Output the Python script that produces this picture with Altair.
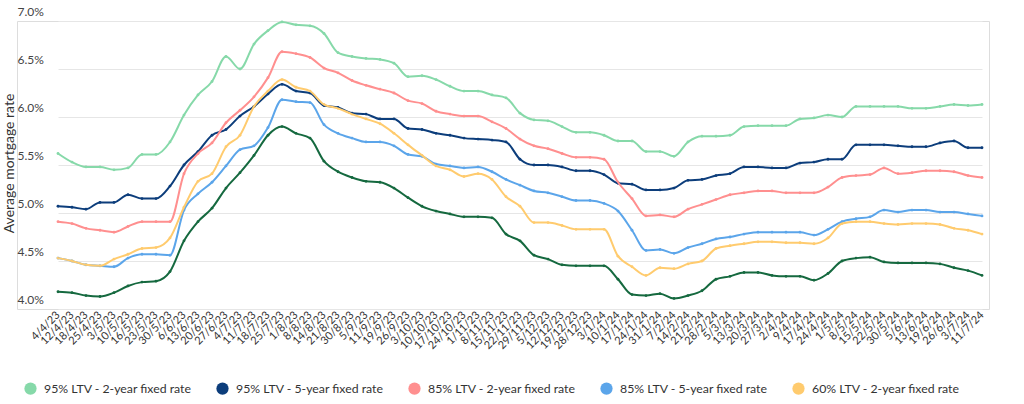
import altair as alt
import pandas as pd

dates = ["4/4/23", "12/4/23", "18/4/23", "25/4/23", "3/5/23", "10/5/23", "16/5/23", "23/5/23",
         "30/5/23", "6/6/23", "13/6/23", "20/6/23", "27/6/23", "4/7/23", "11/7/23", "18/7/23",
         "25/7/23", "1/8/23", "8/8/23", "14/8/23", "21/8/23", "30/8/23", "5/9/23", "11/9/23",
         "19/9/23", "26/9/23", "3/10/23", "10/10/23", "17/10/23", "24/10/23", "1/11/23", "8/11/23",
         "15/11/23", "22/11/23", "29/11/23", "5/12/23", "12/12/23", "19/12/23", "28/12/23", "3/1/24",
         "10/1/24", "17/1/24", "24/1/24", "31/1/24", "7/2/24", "14/2/24", "21/2/24", "28/2/24",
         "5/3/24", "13/3/24", "20/3/24", "27/3/24", "2/4/24", "9/4/24", "17/4/24", "24/4/24",
         "1/5/24", "8/5/24", "15/5/24", "22/5/24", "30/5/24", "5/6/24", "13/6/24", "19/6/24",
         "26/6/24", "3/7/24", "11/7/24"]

ltv95_2yr = [5.62, 5.53, 5.48, 5.48, 5.45, 5.47, 5.61, 5.61, 5.74, 6.02, 6.23, 6.37, 6.63, 6.50, 6.76, 6.90, 6.99, 6.96, 6.95, 6.87, 6.67, 6.63,
             6.61, 6.60, 6.56, 6.42, 6.43, 6.39, 6.32, 6.27, 6.27, 6.23, 6.20, 6.04, 5.97, 5.96, 5.90, 5.84, 5.84, 5.81, 5.75, 5.75, 5.64,
             5.64, 5.59, 5.74, 5.80, 5.80, 5.81, 5.90, 5.91, 5.91, 5.91, 5.98, 5.99, 6.02, 6.00, 6.11, 6.11, 6.11, 6.11, 6.09, 6.09, 6.11, 6.13, 6.12, 6.13]
ltv95_5yr = [5.07, 5.06, 5.04, 5.11, 5.11, 5.19, 5.15, 5.15, 5.28, 5.50, 5.64, 5.81, 5.87, 6.01, 6.11, 6.24, 6.34, 6.27, 6.25, 6.12, 6.10, 6.04,
             6.03, 5.98, 5.98, 5.88, 5.87, 5.83, 5.81, 5.78, 5.77, 5.76, 5.74, 5.56, 5.50, 5.50, 5.48, 5.44, 5.44, 5.40, 5.31, 5.30, 5.24,
             5.24, 5.26, 5.34, 5.35, 5.39, 5.41, 5.48, 5.48, 5.47, 5.47, 5.52, 5.53, 5.56, 5.56, 5.71, 5.71, 5.71, 5.70, 5.69, 5.69, 5.73, 5.75, 5.68, 5.68]
ltv85_2yr = [4.91, 4.89, 4.84, 4.82, 4.80, 4.86, 4.91, 4.91, 4.91, 5.41, 5.62, 5.73, 5.94, 6.07, 6.21, 6.41, 6.68, 6.66, 6.62, 6.51, 6.46, 6.38,
             6.33, 6.29, 6.25, 6.17, 6.14, 6.06, 6.03, 6.01, 6.01, 5.95, 5.88, 5.77, 5.70, 5.67, 5.62, 5.58, 5.58, 5.56, 5.32, 5.15, 4.97,
             4.98, 4.96, 5.04, 5.09, 5.14, 5.19, 5.21, 5.23, 5.23, 5.21, 5.21, 5.21, 5.27, 5.37, 5.39, 5.40, 5.47, 5.41, 5.42, 5.44, 5.44, 5.43, 5.39, 5.37]
ltv85_5yr = [4.53, 4.50, 4.46, 4.45, 4.44, 4.53, 4.57, 4.57, 4.56, 5.03, 5.20, 5.32, 5.49, 5.66, 5.70, 5.89, 6.18, 6.16, 6.15, 5.92, 5.83, 5.78,
             5.74, 5.74, 5.70, 5.61, 5.59, 5.51, 5.49, 5.47, 5.48, 5.43, 5.35, 5.29, 5.23, 5.21, 5.17, 5.13, 5.13, 5.10, 5.02, 4.82, 4.61,
             4.62, 4.58, 4.64, 4.68, 4.73, 4.75, 4.78, 4.80, 4.80, 4.80, 4.80, 4.77, 4.83, 4.91, 4.94, 4.96, 5.03, 5.01, 5.03, 5.03, 5.01, 5.01, 4.99, 4.97]
ltv60_2yr = [4.53, 4.50, 4.46, 4.45, 4.52, 4.57, 4.63, 4.64, 4.74, 5.06, 5.33, 5.41, 5.69, 5.81, 6.11, 6.27, 6.39, 6.31, 6.27, 6.13, 6.09, 6.03,
             5.98, 5.93, 5.83, 5.71, 5.60, 5.49, 5.45, 5.38, 5.41, 5.35, 5.17, 5.07, 4.90, 4.90, 4.87, 4.83, 4.83, 4.83, 4.55, 4.44, 4.35,
             4.43, 4.42, 4.47, 4.50, 4.63, 4.66, 4.68, 4.70, 4.70, 4.69, 4.69, 4.68, 4.74, 4.89, 4.91, 4.91, 4.89, 4.88, 4.89, 4.89, 4.88, 4.84, 4.82, 4.78]
ltv60_5yr = [4.18, 4.17, 4.14, 4.13, 4.17, 4.24, 4.28, 4.29, 4.39, 4.71, 4.91, 5.05, 5.26, 5.42, 5.60, 5.81, 5.90, 5.83, 5.78, 5.54, 5.43, 5.37,
             5.33, 5.32, 5.26, 5.16, 5.07, 5.02, 4.99, 4.96, 4.96, 4.95, 4.78, 4.71, 4.56, 4.52, 4.46, 4.45, 4.45, 4.45, 4.31, 4.15, 4.14,
             4.16, 4.11, 4.14, 4.19, 4.31, 4.34, 4.38, 4.38, 4.35, 4.34, 4.34, 4.30, 4.37, 4.50, 4.53, 4.54, 4.49, 4.48, 4.48, 4.48, 4.47, 4.43, 4.40, 4.35]

series_names = ["95% LTV - 2-year fixed rate", "95% LTV - 5-year fixed rate",
                "85% LTV - 2-year fixed rate", "85% LTV - 5-year fixed rate",
                "60% LTV - 2-year fixed rate", "60% LTV - 5-year fixed rate"]
series_colors = ["#86d9a9", "#0c3d7b", "#ff8f8f", "#5ba5ea", "#ffcb6e", "#15693f"]
series_values = [ltv95_2yr, ltv95_5yr, ltv85_2yr, ltv85_5yr, ltv60_2yr, ltv60_5yr]
y_ticks = [4.0, 4.5, 5.0, 5.5, 6.0, 6.5, 7.0]

rows = []
for name, vals in zip(series_names, series_values):
    for d, v in zip(dates, vals):
        rows.append({"date": d, "series": name, "rate": v})
df = pd.DataFrame(rows)

FONT = "Lato"

x_enc = alt.X("date:N", sort=dates,
              scale=alt.Scale(type="point", range=[41, 965], padding=0),
              axis=alt.Axis(title=None, labelAngle=315, labelOverlap=False, labelFontSize=11,
                            labelColor="#333333", labelFont=FONT, ticks=False, tickSize=0,
                            domain=False, labelPadding=4, labelAlign="right",
                            labelBaseline="middle", grid=False))
y_enc = alt.Y("rate:Q",
              scale=alt.Scale(domain=[4.0, 7.0], nice=False, zero=False),
              axis=alt.Axis(values=y_ticks, labelExpr="format(datum.value, '.1f') + '%'",
                            labelAlign="left", labelBaseline="bottom", labelPadding=0,
                            labelOffset=-3, ticks=False, tickSize=0, domain=False,
                            labelFont=FONT, labelFontSize=12, labelColor="#444444",
                            gridColor="#e6e6e6", gridWidth=1,
                            title="Average mortgage rate", titleX=-8, titleY=142,
                            titleAngle=270, titleFontWeight="normal", titleFontSize=14,
                            titleFont=FONT, titleColor="#333333", titleAlign="center",
                            titleBaseline="middle"))
color_scale = alt.Scale(domain=series_names, range=series_colors)
legend = alt.Legend(values=series_names[:5], orient="none", legendX=7, legendY=361,
                    direction="horizontal", title=None, symbolType="circle",
                    symbolSize=150, symbolOpacity=1, symbolStrokeWidth=0,
                    labelFont=FONT, labelFontSize=12.3, labelColor="#333333",
                    columnPadding=24, labelOffset=7, labelLimit=300)
color_enc = alt.Color("series:N", scale=color_scale, sort=series_names, legend=legend)

points = alt.Chart(df).mark_circle(size=8, opacity=1).encode(
    x=x_enc, y=y_enc, color=color_enc,
)

lines = alt.Chart(df).mark_line(interpolate="monotone", strokeWidth=2).encode(
    x=x_enc, y=y_enc, color=color_enc,
)

chart = alt.layer(points, lines).properties(
    width=972, height=288,
    padding={"left": 17, "top": 21, "right": 35, "bottom": 95},
    autosize=alt.AutoSizeParams(type="none"),
).configure_view(stroke=None).configure(background="white")

chart.save("out.html", embed_options={"renderer": "svg", "actions": False})
